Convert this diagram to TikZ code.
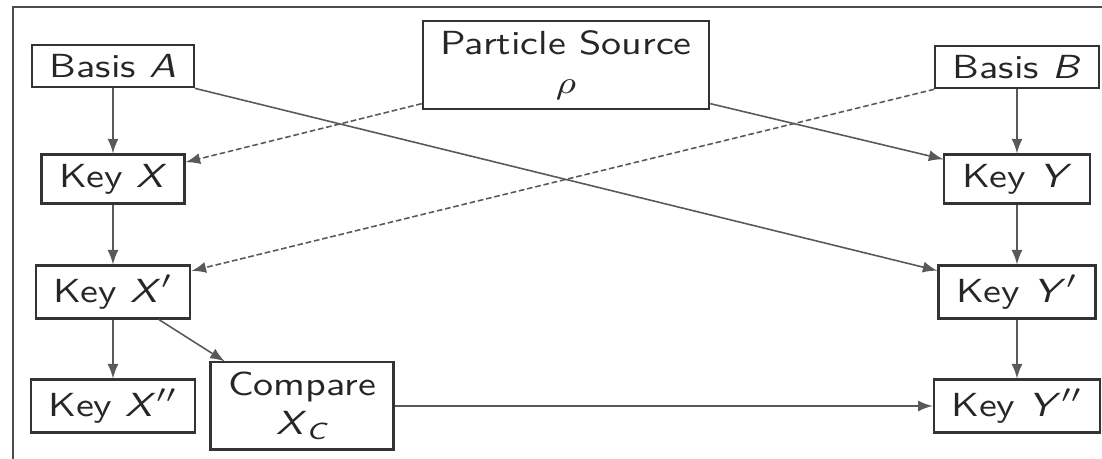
\documentclass[tikz,border=0pt]{standalone}
\usepackage{amsmath,amssymb}
\usepackage{graphicx}
\usepackage{xcolor}
\usepackage{tikz}
\usetikzlibrary{arrows,positioning,calc}

% labels are set a little wider than the font
\newcommand{\wide}[1]{\scalebox{1.2}[1]{#1}}

\tikzset{
  box/.style={draw=black!80, line width=0.6pt, fill=white, inner xsep=5pt, inner ysep=2.7pt,
    align=center, text=black!85, font=\fontsize{9.5}{11}\selectfont\sffamily},
  link/.style={->, >=latex, draw=black!65, line width=0.45pt},
  hint/.style={link, dash pattern=on 1.6pt off 0.8pt},
  frame/.style={draw=black!70, line width=0.7pt},
}

\begin{document}
\begin{tikzpicture}[x=0.01cm, y=-0.01cm]
    \clip (0,0) rectangle (1102,459);
    \draw[frame] (13,7) rectangle (1140,490);

    % source and the two bases
    \node[box] (source) at (566,65) {\wide{Particle Source}\\ \wide{$\rho$}};
    \node[box] (basisA) at (113,66) {\wide{Basis \textit{A}}};
    \node[box] (basisB) at (1017,67) {\wide{Basis \textit{B}}};

    % keys of A (left)
    \node[box] (keyX) at (113,179) {\wide{Key \textit{X}}};
    \node[box] (keyXp) at (113,292) {\wide{Key \textit{X}$'$}};
    \node[box] (keyXpp) at (113,406) {\wide{Key \textit{X}$''$}};
    \node[box] (compare) at (302,406) {\wide{Compare}\\ \wide{\textit{X}$_{\textit{C}}$}};

    % keys of B (right)
    \node[box] (keyY) at (1017,179) {\wide{Key \textit{Y}}};
    \node[box] (keyYp) at (1017,292) {\wide{Key \textit{Y}$'$}};
    \node[box] (keyYpp) at (1017,406) {\wide{Key \textit{Y}$''$}};

    % straight down
    \draw[link] (basisA) -- (keyX);
    \draw[link] (keyX) -- (keyXp);
    \draw[link] (keyXp) -- (keyXpp);
    \draw[link] (basisB) -- (keyY);
    \draw[link] (keyY) -- (keyYp);
    \draw[link] (keyYp) -- (keyYpp);

    % crossing links
    \draw[link] (basisA.south east) -- (keyYp.165);
    \draw[hint] (source.195) -- (keyX.13);
    \draw[link] (source.-15) -- (keyY.165);
    \draw[hint] (basisB.south west) -- (keyXp.15);

    % comparison
    \draw[link] (keyXp.-31) -- (compare.150);
    \draw[link] (compare) -- (keyYpp);
\end{tikzpicture}
\end{document}
